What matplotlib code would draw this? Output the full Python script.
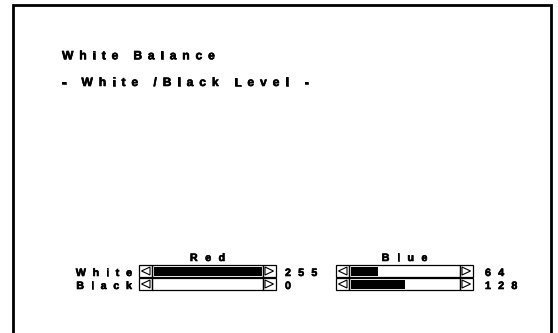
import matplotlib
matplotlib.use('Agg')
import matplotlib.pyplot as plt
import matplotlib.patheffects as pe
from matplotlib.patches import Rectangle, Polygon

plt.rcParams['font.family'] = ['Liberation Sans', 'DejaVu Sans']
plt.rcParams['font.weight'] = 'bold'

# --- data ---
title = "White Balance"
subtitle = "- White /Black Level -"
rows = ["White", "Black"]
channels = ["Red", "Blue"]
red_levels = [255, 0]
blue_levels = [64, 128]
max_level = 255

W, H = 558, 333
fig = plt.figure(figsize=(W / 100, H / 100), dpi=100)
ax = fig.add_axes([0, 0, 1, 1])
ax.set_xlim(0, W)
ax.set_ylim(H, 0)
ax.axis('off')
renderer = fig.canvas.get_renderer()
heavy = [pe.withStroke(linewidth=0.45, foreground='black')]


def char_w(c, size):
    t = ax.text(0, 0, c if c != " " else "i", fontsize=size)
    w = t.get_window_extent(renderer).width
    t.remove()
    return w


def tracked(x, y, s, size, track, ha='left'):
    # menu text with wide letter spacing, drawn glyph by glyph
    widths = [char_w(c, size) for c in s]
    total = sum(widths) + track * (len(s) - 1)
    if ha == 'right':
        x -= total
    elif ha == 'center':
        x -= total / 2
    for c, w in zip(s, widths):
        if c != " ":
            ax.text(x, y, c, fontsize=size, va='baseline', ha='left',
                    path_effects=heavy)
        x += w + track


# outer screen frame (bottom edge is cut off)
ax.plot([13, 13, 551, 551], [H + 5, 5, 5, H + 5], color='black', lw=2.0,
        solid_joinstyle='miter')

tracked(62, 59.3, title, 8.7, 5.8)
tracked(62, 86, subtitle, 8.7, 5.9)

row_y = [271, 284]
row_h = 12
arrow_w = 13
bar_len = 108
group_x = [139, 336]
num_x = [285, 485]
levels = [red_levels, blue_levels]

for label, y in zip(rows, row_y):
    tracked(132, y + 5, label, 7.7, 6.8, ha='right')

for name, x0, vals, nx in zip(channels, group_x, levels, num_x):
    bx = x0 + arrow_w
    tracked(bx + bar_len / 2 + 1.5, 261, name, 7.7, 7.5, ha='center')
    widths = [v / max_level * bar_len for v in vals]
    ax.barh(row_y, widths, height=row_h - 3, left=bx + 1.5, color='black',
            zorder=3)
    for y, v in zip(row_y, vals):
        top = y - row_h / 2
        # left arrow box
        ax.add_patch(Rectangle((x0, top), arrow_w, row_h, fill=False,
                               ec='black', lw=0.9, zorder=4))
        ax.add_patch(Polygon([[x0 + 2.5, y], [x0 + arrow_w - 2, top + 2],
                              [x0 + arrow_w - 2, top + row_h - 2]],
                             closed=True, fill=False, ec='black', lw=0.8,
                             zorder=4))
        # bar box
        ax.add_patch(Rectangle((bx, top), bar_len + 3, row_h, fill=False,
                               ec='black', lw=0.9, zorder=4))
        # right arrow box
        rx = bx + bar_len + 3
        ax.add_patch(Rectangle((rx, top), arrow_w, row_h, fill=False,
                               ec='black', lw=0.9, zorder=4))
        ax.add_patch(Polygon([[rx + arrow_w - 2.5, y], [rx + 2, top + 2],
                              [rx + 2, top + row_h - 2]],
                             closed=True, fill=False, ec='black', lw=0.8,
                             zorder=4))
        tracked(nx, y + 5, str(v), 7.7, 7.3)

fig.savefig('out.png', dpi=100, facecolor='white')
